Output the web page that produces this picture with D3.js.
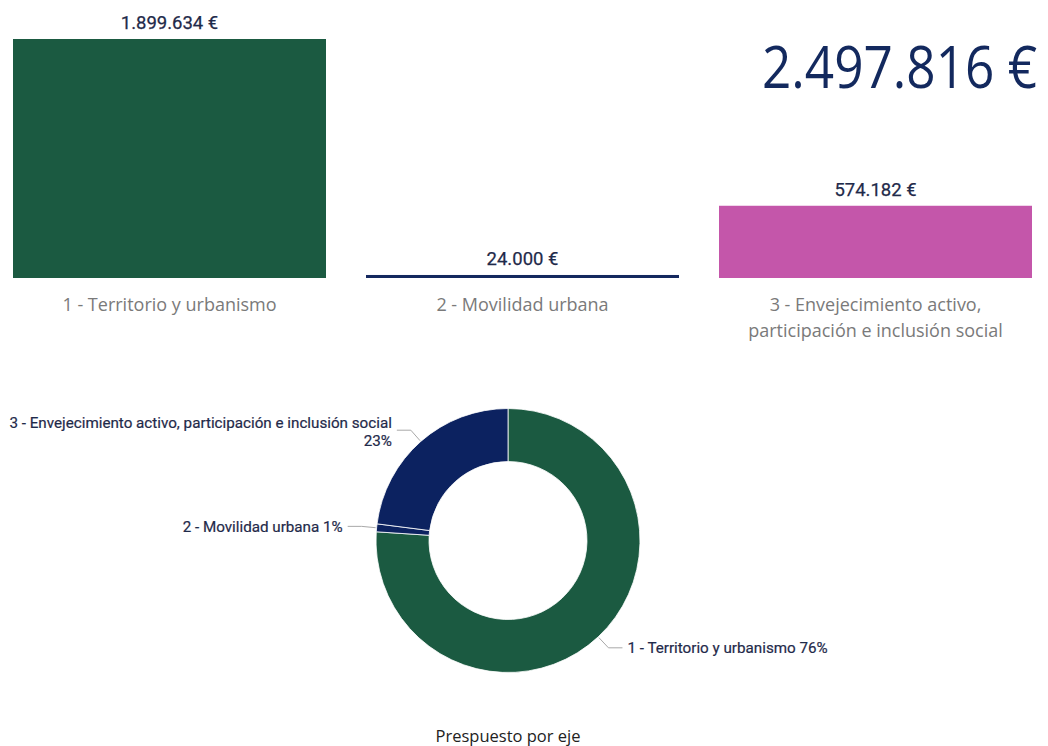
<!DOCTYPE html>
<html><head><meta charset="utf-8">
<script src="https://cdn.jsdelivr.net/npm/d3@7"></script>
<style>
html,body{margin:0;padding:0;background:#fff;}
svg{display:block;}
</style></head>
<body>
<svg id="chart" width="1048" height="746"></svg>
<script>
// ---- data ----
const categories = ["1 - Territorio y urbanismo", "2 - Movilidad urbana", "3 - Envejecimiento activo, participación e inclusión social"];
const categoryLines = [["1 - Territorio y urbanismo"], ["2 - Movilidad urbana"], ["3 - Envejecimiento activo,", "participación e inclusión social"]];
const budgetValues = [1899634, 24000, 574182];
const totalLabel = "2.497.816 €";
const pctLabels = ["76%", "1%", "23%"];
const chartTitle = "Prespuesto por eje";

const barColors = ["#1b5a41", "#14285e", "#c456aa"];
const donutColors = ["#1b5a41", "#0c2260", "#0c2260"];

const svg = d3.select("#chart");
const fmt = v => d3.format(",")(v).replace(/,/g, ".") + " €";

// ---- top bar chart ----
const x = d3.scaleBand().domain(categories).range([13, 1032]).paddingInner(40 / 353).paddingOuter(0);
const y = d3.scaleLinear().domain([0, d3.max(budgetValues)]).range([278, 39]);

const bars = svg.append("g");
bars.selectAll("rect").data(budgetValues).join("rect")
  .attr("x", (d, i) => x(categories[i]))
  .attr("y", d => y(d))
  .attr("width", x.bandwidth())
  .attr("height", d => y(0) - y(d))
  .attr("fill", (d, i) => barColors[i]);

bars.selectAll("text.val").data(budgetValues).join("text")
  .attr("class", "val")
  .attr("x", (d, i) => x(categories[i]) + x.bandwidth() / 2)
  .attr("y", d => y(d) - 10)
  .attr("text-anchor", "middle")
  .attr("font-family", "Roboto, sans-serif")
  .attr("font-weight", 400)
  .attr("font-size", 18.5)
  .attr("fill", "#1f2a4a")
  .attr("stroke", "#1f2a4a")
  .attr("stroke-width", 0.25)
  .text(d => fmt(d));

categoryLines.forEach((lines, i) => {
  const t = bars.append("text")
    .attr("x", x(categories[i]) + x.bandwidth() / 2)
    .attr("y", 311)
    .attr("text-anchor", "middle")
    .attr("font-family", "'Open Sans', sans-serif")
    .attr("font-size", 18)
    .attr("fill", "#7a7a7a");
  lines.forEach((l, j) => t.append("tspan")
    .attr("x", x(categories[i]) + x.bandwidth() / 2)
    .attr("dy", j === 0 ? 0 : 26).text(l));
});

// big total
const totalG = svg.append("g");
const totalT = totalG.append("text")
  .attr("x", 0).attr("y", 0)
  .attr("text-anchor", "end")
  .attr("font-family", "'Open Sans', sans-serif")
  .attr("font-weight", 400)
  .attr("font-size", 58)
  .attr("fill", "#13295e")
  .text(totalLabel);
const natW = totalT.node().getComputedTextLength();
totalG.attr("transform", `translate(1037,88) scale(${275 / natW},1)`);

// ---- donut ----
const cx = 508, cy = 540.5, rOuter = 132, rInner = 79;
const pie = d3.pie().sort(null).value(d => d);
const arcs = pie(budgetValues);
const arc = d3.arc().innerRadius(rInner).outerRadius(rOuter);
const g = svg.append("g").attr("transform", `translate(${cx},${cy})`);
g.selectAll("path").data(arcs).join("path")
  .attr("d", arc)
  .attr("fill", (d, i) => donutColors[i])
  .attr("stroke", "#ffffff")
  .attr("stroke-width", 0.8);

const polar = (a, r) => [r * Math.sin(a), -r * Math.cos(a)];
arcs.forEach((d, i) => {
  const mid = (d.startAngle + d.endAngle) / 2;
  const p0 = polar(mid, rOuter + 1);
  const p1 = polar(mid, 147);
  const right = Math.sin(mid) > 0;
  const p2 = [p1[0] + (right ? 14 : -14), p1[1]];
  g.append("polyline")
    .attr("points", [p0, p1, p2].map(p => p.join(",")).join(" "))
    .attr("fill", "none").attr("stroke", "#a8a8a8").attr("stroke-width", 1);
  const tx = p2[0] + (right ? 5 : -5);
  const t = g.append("text")
    .attr("x", tx).attr("y", p2[1])
    .attr("text-anchor", right ? "start" : "end")
    .attr("font-family", "Roboto, sans-serif")
    .attr("font-weight", 400)
    .attr("font-size", 15.2)
    .attr("fill", "#1f2a4a")
    .attr("stroke", "#1f2a4a")
    .attr("stroke-width", 0.2);
  const name = categories[i];
  if (name.length > 40) {
    t.append("tspan").attr("x", tx).attr("dy", "-0.15em").text(name);
    t.append("tspan").attr("x", tx).attr("dy", "1.2em").text(pctLabels[i]);
  } else {
    t.attr("dy", "0.35em").text(name + " " + pctLabels[i]);
  }
});

// title
svg.append("text")
  .attr("x", 508).attr("y", 742)
  .attr("text-anchor", "middle")
  .attr("font-family", "'Open Sans', sans-serif")
  .attr("font-size", 16.5)
  .attr("fill", "#222")
  .text(chartTitle);
</script>
</body></html>
